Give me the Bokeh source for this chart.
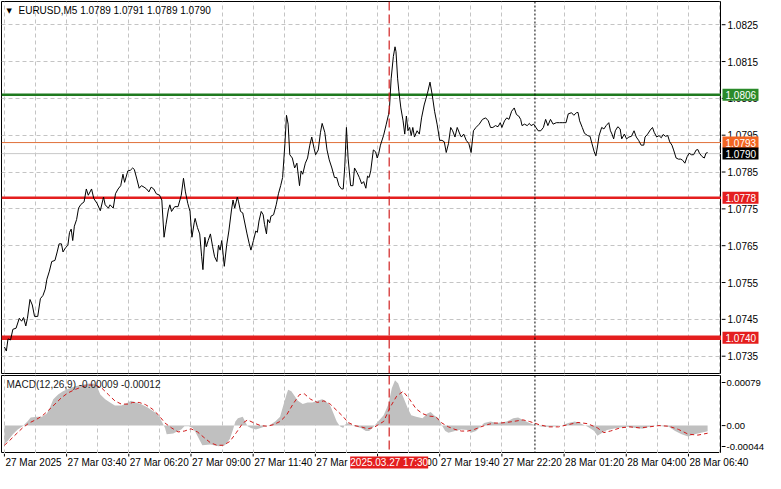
from bokeh.plotting import figure
from bokeh.models import Range1d, FixedTicker, Span, Label, Grid
from bokeh.layouts import column, row
from bokeh.core.properties import value
from bokeh.embed import file_html
from bokeh.resources import INLINE

FONT = "Liberation Sans"

# ---------------- data (5-minute bar index, EURUSD close) ----------------
price_bar = [0.0, 1.0, 1.85, 3.15, 4.35, 6.0, 7.65, 8.85, 9.85, 11.0, 11.85, 13.15, 14.35, 15.5, 17.15, 18.5,
             19.85, 21.0, 21.85, 23.15, 24.35, 26.0, 27.15, 28.15, 29.35, 30.15, 31.5, 32.65, 33.5, 34.35, 35.15,
             36.0, 37.15, 38.15, 39.35, 41.0, 42.15, 43.15, 44.85, 46.0, 47.65, 49.35, 51.0, 51.85, 53.5, 54.35,
             56.0, 57.15, 58.5, 59.85, 61.0, 61.85, 63.5, 64.85, 66.0, 66.85, 68.15, 69.35, 70.5, 71.85, 73.15,
             74.35, 75.5, 76.85, 78.15, 79.85, 81.0, 82.15, 83.15, 84.35, 85.15, 86.0, 87.65, 89.35, 91.0, 92.15,
             93.15, 94.35, 95.5, 96.5, 97.65, 98.15, 99.35, 100.5, 101.5, 102.15, 103.15, 103.85, 104.85, 106.0,
             107.15, 108.15, 109.35, 110.15, 111.0, 111.85, 113.15, 114.35, 115.5, 116.85, 117.65, 118.5, 119.85,
             120.5, 121.5, 122.65, 123.5, 124.85, 126.0, 126.85, 128.15, 129.35, 130.15, 131.0, 132.15, 133.15,
             133.85, 134.85, 135.5, 136.5, 137.15, 138.5, 139.85, 141.0, 142.15, 143.15, 144.35, 145.15, 146.0,
             146.85, 148.15, 149.35, 150.5, 151.85, 152.65, 153.5, 154.85, 156.0, 157.15, 158.15, 159.35, 160.15,
             161.5, 162.65, 163.5, 164.85, 166.0, 167.15, 168.5, 169.85, 171.0, 172.15, 173.5, 174.35, 175.15,
             176.0, 176.85, 178.15, 179.35, 180.15, 181.5, 182.65, 183.85, 184.85, 186.0, 186.85, 187.65, 188.5,
             189.85, 191.0, 191.85, 192.65, 193.5, 195.15, 196.5, 197.65, 198.15, 199.0, 200.15, 201.0, 201.5,
             202.35, 203.0, 204.0, 205.15, 206.0, 206.85, 207.65, 208.5, 209.35, 210.15, 211.0, 212.35, 213.5,
             214.65, 216.0, 217.65, 219.0, 220.15, 221.35, 222.65, 224.0, 225.15, 226.35, 227.35, 228.5, 229.65,
             230.65, 231.85, 233.0, 234.35, 235.15, 236.35, 237.65, 239.0, 240.15, 241.35, 242.65, 244.35, 246.0,
             247.65, 249.0, 250.15, 251.35, 252.65, 254.0, 255.15, 256.0, 257.35, 258.5, 259.65, 261.0, 262.35,
             263.5, 264.65, 265.65, 266.35, 267.65, 269.0, 270.15, 271.0, 272.35, 273.5, 274.65, 276.0, 277.35,
             278.5, 279.65, 281.0, 282.35, 284.0, 285.65, 287.35, 289.0, 290.15, 291.85, 293.0, 294.35, 295.15,
             296.0, 297.35, 298.5, 300.15, 301.35, 302.35, 303.5, 304.35, 305.15, 306.0, 307.35, 308.5, 309.65,
             311.0, 311.85, 312.65, 313.5, 314.35, 315.65, 316.85, 317.65, 319.0, 320.15, 321.35, 322.65, 324.0,
             325.15, 326.35, 327.65, 329.0, 329.65, 331.0, 332.35, 333.5, 334.35, 335.65, 336.85, 338.0, 339.0,
             340.15, 341.35, 342.35, 343.5, 344.35, 345.65, 346.85, 348.0, 349.0, 350.15, 351.35, 352.35, 353.5,
             354.65, 356.0, 356.85, 357.65, 359.0, 360.15, 361.0, 361.85]
price_close = [1.07375, 1.07364, 1.07397, 1.07394, 1.07423, 1.07426, 1.07453, 1.07445, 1.07455, 1.07432, 1.07453,
               1.07504, 1.07489, 1.07458, 1.07458, 1.07506, 1.07515, 1.07532, 1.07559, 1.07581, 1.07607, 1.07610,
               1.07633, 1.07655, 1.07655, 1.07633, 1.07645, 1.07651, 1.07686, 1.07695, 1.07664, 1.07703, 1.07721,
               1.07752, 1.07762, 1.07769, 1.07804, 1.07787, 1.07804, 1.07778, 1.07765, 1.07745, 1.07782, 1.07761,
               1.07752, 1.07761, 1.07752, 1.07791, 1.07804, 1.07813, 1.07844, 1.07822, 1.07853, 1.07855, 1.07861,
               1.07857, 1.07831, 1.07806, 1.07813, 1.07809, 1.07804, 1.07796, 1.07809, 1.07804, 1.07791, 1.07787,
               1.07774, 1.07673, 1.07708, 1.07747, 1.07761, 1.07743, 1.07756, 1.07756, 1.07787, 1.07833, 1.07796,
               1.07765, 1.07743, 1.07673, 1.07712, 1.07724, 1.07699, 1.07682, 1.07620, 1.07585, 1.07673, 1.07647,
               1.07664, 1.07682, 1.07647, 1.07620, 1.07607, 1.07651, 1.07638, 1.07664, 1.07594, 1.07651, 1.07690,
               1.07747, 1.07774, 1.07752, 1.07782, 1.07769, 1.07743, 1.07739, 1.07717, 1.07682, 1.07655, 1.07638,
               1.07664, 1.07690, 1.07686, 1.07717, 1.07743, 1.07734, 1.07708, 1.07682, 1.07721, 1.07712, 1.07730,
               1.07734, 1.07761, 1.07791, 1.07813, 1.07835, 1.07927, 1.08004, 1.07980, 1.07897, 1.07888, 1.07861,
               1.07874, 1.07813, 1.07853, 1.07844, 1.07874, 1.07888, 1.07923, 1.07945, 1.07914, 1.07897, 1.07910,
               1.07958, 1.07982, 1.07958, 1.07910, 1.07883, 1.07861, 1.07835, 1.07835, 1.07813, 1.07804, 1.07804,
               1.07866, 1.07971, 1.07888, 1.07813, 1.07813, 1.07861, 1.07848, 1.07835, 1.07818, 1.07824, 1.07806,
               1.07839, 1.07835, 1.07853, 1.07910, 1.07905, 1.07888, 1.07901, 1.07923, 1.07950, 1.07980, 1.08006,
               1.08024, 1.08103, 1.08164, 1.08190, 1.08177, 1.08103, 1.08068, 1.08024, 1.07989, 1.07953, 1.08002,
               1.07962, 1.07971, 1.07949, 1.07971, 1.07945, 1.07962, 1.07953, 1.07997, 1.08032, 1.08063, 1.08094,
               1.08059, 1.08015, 1.07980, 1.07936, 1.07936, 1.07932, 1.07903, 1.07927, 1.07971, 1.07962, 1.07945,
               1.07971, 1.07953, 1.07945, 1.07953, 1.07936, 1.07927, 1.07903, 1.07962, 1.07971, 1.07980, 1.07993,
               1.07997, 1.07989, 1.07971, 1.07971, 1.07976, 1.07973, 1.07984, 1.07971, 1.07989, 1.07997, 1.07993,
               1.08015, 1.08024, 1.08006, 1.08002, 1.07993, 1.07976, 1.07980, 1.07976, 1.07982, 1.07976, 1.07980,
               1.07971, 1.07962, 1.07962, 1.07971, 1.07993, 1.07976, 1.07993, 1.07980, 1.07984, 1.07984, 1.07984,
               1.07984, 1.08008, 1.08011, 1.08004, 1.08011, 1.08012, 1.07989, 1.07971, 1.07955, 1.07949, 1.07947,
               1.07927, 1.07905, 1.07894, 1.07918, 1.07949, 1.07971, 1.07967, 1.07976, 1.07984, 1.07962, 1.07953,
               1.07940, 1.07962, 1.07973, 1.07967, 1.07940, 1.07953, 1.07940, 1.07945, 1.07947, 1.07962, 1.07945,
               1.07936, 1.07923, 1.07923, 1.07945, 1.07953, 1.07964, 1.07971, 1.07958, 1.07945, 1.07949, 1.07943,
               1.07952, 1.07947, 1.07949, 1.07932, 1.07923, 1.07910, 1.07888, 1.07885, 1.07885, 1.07882, 1.07874,
               1.07892, 1.07901, 1.07897, 1.07897, 1.07910, 1.07911, 1.07901, 1.07892, 1.07888, 1.07901, 1.07903]

hist_bar = [0.0, 1.85, 4.35, 6.85, 9.35, 11.85, 13.5, 16.85, 19.35, 21.85, 23.5, 25.15, 27.65, 30.15, 32.65, 36.0,
            39.35, 43.5, 46.0, 47.65, 49.35, 51.85, 54.35, 56.85, 60.15, 62.65, 65.15, 67.65, 70.15, 73.5, 76.0,
            78.5, 81.0, 82.65, 83.5, 86.85, 89.35, 91.0, 92.65, 94.85, 96.85, 98.5, 100.15, 101.85, 106.0, 110.15,
            113.5, 116.0, 117.65, 118.85, 120.15, 122.65, 123.85, 125.15, 126.85, 129.35, 131.85, 134.35, 136.85,
            139.35, 141.85, 143.5, 145.15, 146.0, 147.65, 149.35, 151.0, 153.5, 156.0, 158.5, 161.0, 163.5, 165.15,
            167.65, 169.35, 171.0, 172.65, 174.35, 175.15, 176.85, 180.15, 183.5, 186.0, 187.65, 189.35, 191.85,
            195.15, 197.65, 199.35, 201.0, 202.65, 204.35, 206.0, 207.65, 209.35, 211.85, 215.15, 217.65, 219.35,
            221.0, 223.5, 225.15, 226.85, 228.5, 231.85, 235.15, 238.5, 240.15, 242.65, 245.15, 246.85, 250.15,
            253.5, 258.5, 261.85, 264.35, 266.85, 270.15, 273.5, 276.85, 281.85, 286.85, 290.15, 293.5, 296.85,
            300.15, 303.5, 305.15, 307.65, 310.15, 315.15, 320.15, 325.15, 328.5, 331.85, 335.15, 338.5, 341.85,
            345.15, 348.5, 351.85, 355.15, 358.5, 361.85]
hist_val = [-0.000285, -0.000236, -0.000135, -0.00006, -0.00001, 0.000065, 0.000129, 0.00014, 0.00014, 0.000189,
            0.00029, 0.000414, 0.000489, 0.00054, 0.000579, 0.000615, 0.000639, 0.000665, 0.000665, 0.000615,
            0.000489, 0.000414, 0.000365, 0.000315, 0.000315, 0.00035, 0.00039, 0.000365, 0.000339, 0.00029,
            0.00024, 0.000189, 0.000065, -0.000036, -0.000135, -0.000126, -0.000086, -0.00006, -0.00001, -0.00001,
            -0.000036, -0.000111, -0.00021, -0.00031, -0.0003, -0.000326, -0.00031, -0.00021, -0.00006, 0.000065,
            0.000114, 0.00014, 0.000065, -0.00001, -0.000036, -0.00006, -0.000036, -0.00001, 0.000015, 0.000065,
            0.00014, 0.000315, 0.000489, 0.000564, 0.00054, 0.000465, 0.00039, 0.000339, 0.000365, 0.000365,
            0.00039, 0.000414, 0.00039, 0.000315, 0.000189, 0.000065, -0.00001, -0.000036, 0.000015, 0.00004,
            -0.00001, -0.000036, -0.000086, -0.000086, -0.000036, 0.00005, 0.000165, 0.000339, 0.00059, 0.000714,
            0.000665, 0.000515, 0.00039, 0.000264, 0.000165, 0.00014, 0.000114, 0.000189, 0.000215, 0.000165,
            0.000114, 0.0, -0.000086, -0.000111, -0.000086, -0.00006, -0.00007, -0.000111, -0.000086, -0.00001,
            0.00004, 0.000065, 0.00004, 0.000065, 0.000114, 0.000129, 0.00009, 0.00004, 0.0, -0.00002, -0.00002,
            0.0, 0.00004, 0.000065, 0.00003, -0.00002, -0.000086, -0.00016, -0.000111, -0.00007, -0.000036,
            -0.00002, -0.000036, -0.00005, -0.00002, 0.0, -0.00001, -0.00002, -0.000086, -0.000135, -0.00017,
            -0.000135, -0.000111, -0.00009]

signal_bar = [0.0, 2.65, 6.0, 9.35, 12.65, 16.0, 19.35, 22.65, 26.0, 29.35, 32.65, 36.0, 40.15, 43.5, 46.85,
              50.15, 53.5, 56.85, 60.15, 63.5, 66.0, 69.35, 72.65, 76.0, 79.35, 82.65, 86.0, 89.35, 92.65, 96.0,
              99.35, 102.65, 106.0, 109.35, 112.65, 116.0, 119.35, 122.65, 125.15, 128.5, 131.85, 135.15, 138.5,
              141.85, 145.15, 148.5, 151.85, 154.35, 157.65, 161.0, 164.35, 167.65, 171.0, 174.35, 176.85, 180.15,
              183.5, 186.85, 190.15, 192.65, 195.15, 198.5, 201.85, 205.15, 208.5, 211.85, 215.15, 218.5, 221.85,
              225.15, 228.5, 231.85, 235.15, 238.5, 241.85, 245.15, 248.5, 251.85, 255.15, 258.5, 261.85, 266.85,
              270.15, 275.15, 280.15, 285.15, 290.15, 295.15, 300.15, 305.15, 308.5, 311.85, 316.85, 321.85,
              326.85, 331.85, 336.85, 341.85, 346.85, 351.85, 356.85, 361.85]
signal_val = [-0.00031, -0.000236, -0.000135, -0.000036, 0.00004, 0.00009, 0.00015, 0.00024, 0.000339, 0.00044,
              0.000515, 0.000564, 0.000615, 0.000639, 0.000639, 0.00059, 0.000489, 0.00039, 0.000339, 0.000339,
              0.000365, 0.000365, 0.00033, 0.000264, 0.000165, 0.00004, -0.000036, -0.0001, -0.000086, -0.00005,
              -0.0001, -0.000186, -0.00027, -0.00031, -0.00031, -0.00025, -0.000111, 0.00004, 0.00009, 0.00004,
              0.0, -0.00001, 0.000015, 0.000065, 0.000165, 0.000339, 0.000489, 0.0005, 0.000414, 0.000365, 0.00039,
              0.000339, 0.00024, 0.00014, 0.00005, 0.0, -0.00002, -0.00005, -0.00003, 0.00002, 0.000065, 0.00029,
              0.000465, 0.00054, 0.000414, 0.000264, 0.000189, 0.00015, 0.00014, 0.00004, -0.00002, -0.00006,
              -0.000086, -0.000086, -0.00006, -0.00002, 0.000015, 0.00004, 0.00004, 0.00005, 0.000065, 0.00009,
              0.000065, 0.000015, -0.00002, -0.00002, 0.000015, 0.00005, 0.00003, -0.000036, -0.000111, -0.000086,
              -0.000036, -0.00002, -0.000036, -0.00002, 0.0, -0.00001, -0.00006, -0.000135, -0.00015, -0.00012]

level_prices = [1.0806, 1.0793, 1.0790, 1.0778, 1.0740]
level_labels = ["1.0806", "1.0793", "1.0790", "1.0778", "1.0740"]
price_ticks = [1.0735, 1.0745, 1.0755, 1.0765, 1.0775, 1.0785, 1.0795, 1.0805, 1.0815, 1.0825]
price_tick_labels = ["1.0735", "1.0745", "1.0755", "1.0765", "1.0775", "1.0785", "1.0795", "1.0805", "1.0815",
                     "1.0825"]
time_ticks = [0, 32, 64, 96, 128, 160, 192, 224, 256, 288, 320, 352]
time_labels = ["27 Mar 2025", "27 Mar 03:40", "27 Mar 06:20", "27 Mar 09:00", "27 Mar 11:40", "27 Mar 14:20",
               "27 Mar 17:00", "27 Mar 19:40", "27 Mar 22:20", "28 Mar 01:20", "28 Mar 04:00", "28 Mar 06:40"]
grid_bars = [0, 16, 32, 48, 64, 80, 96, 112, 128, 144, 160, 176, 192, 208, 224, 240, 256, 288, 304,
             320, 336, 352, 368]
cursor_bar = 198
cursor_label = "2025.03.27 17:30"
separator_bar = 273
macd_range = (-0.00044, 0.00079)
macd_tick_values = [-0.00044, 0.0, 0.00079]
macd_tick_labels = ["-0.00044", "0.00", "0.00079"]
header_text = "EURUSD,M5  1.0789 1.0791 1.0789 1.0790"
macd_text = "MACD(12,26,9) -0.00009 -0.00012"

# ---------------- styles / layout ----------------
GRID = "#c4c4c4"
CURSOR = "#d02020"
level_line_colors = ["#1f7a1f", "#e0703a", "#c8c8c8", "#e41e1e", "#e41e1e"]
level_line_widths = [2.5, 1, 1, 2.5, 4.5]
level_box_colors = ["#2a8a2a", "#f26522", "#000000", "#e41e1e", "#e41e1e"]

X0, X1 = -1.5, 369.0
FW = 720          # chart frame width
SW = 44           # right scale width
MAIN_H = 372
MACD_H = 78
AXIS_H = 18
Y0, Y1 = 1.07303, 1.08313
BARS_PER_PX = (X1 - X0) / FW


def base_fig(fw, fh, xr, yr, top=1, bottom=1, left=1, outline="black"):
    f = figure(frame_width=fw, frame_height=fh, x_range=xr, y_range=yr, x_axis_location=None,
               y_axis_location=None, toolbar_location=None, output_backend="svg",
               min_border_left=left, min_border_right=0, min_border_top=top, min_border_bottom=bottom,
               background_fill_color="white", border_fill_color="white", outline_line_color=outline)
    for g in f.grid:
        g.visible = False
    return f


xr = Range1d(X0, X1)

# ---------------- main price panel ----------------
p = base_fig(FW, MAIN_H, xr, Range1d(Y0, Y1))
p.add_layout(Grid(dimension=0, ticker=FixedTicker(ticks=grid_bars), grid_line_color=GRID, grid_line_dash="4 3"))
p.add_layout(Grid(dimension=1, ticker=FixedTicker(ticks=price_ticks), grid_line_color=GRID, grid_line_dash="4 3"))
for lvl, lc, lw in zip(level_prices, level_line_colors, level_line_widths):
    p.add_layout(Span(location=lvl, dimension="width", line_color=lc, line_width=lw, level="underlay"))
p.line(price_bar, price_close, line_color="black", line_width=1)
p.add_layout(Label(x=X0, y=Y1, x_offset=5, y_offset=-5, text="\u25bc", text_baseline="top",
                   text_font="DejaVu Sans", text_font_size="7px", text_color="black"))
p.add_layout(Label(x=X0, y=Y1, x_offset=17, y_offset=-3, text=header_text, text_baseline="top",
                   text_font=FONT, text_font_size="10px", text_color="black"))

# right price scale
ps = base_fig(SW, MAIN_H, Range1d(0, SW), p.y_range, left=0, outline=None)
ps.segment(x0=[0] * len(price_ticks), y0=price_ticks, x1=[4] * len(price_ticks), y1=price_ticks,
           line_color="black", line_width=1)
ps.text(x=[6] * len(price_ticks), y=price_ticks, text=price_tick_labels, text_font=value(FONT),
        text_font_size="10px", text_align="left", text_baseline="middle", text_color="black")
ps.rect(x=[19] * len(level_prices), y=level_prices, width=36, height=12, width_units="screen",
        height_units="screen", fill_color=level_box_colors, line_color=None)
ps.text(x=[4] * len(level_prices), y=level_prices, text=level_labels, text_font=value(FONT),
        text_font_size="10px", text_align="left", text_baseline="middle", text_color="white")

# ---------------- MACD panel ----------------
q = base_fig(FW, MACD_H, xr, Range1d(*macd_range), bottom=0)
q.add_layout(Grid(dimension=0, ticker=FixedTicker(ticks=grid_bars), grid_line_color=GRID, grid_line_dash="4 3"))
q.varea(x=hist_bar, y1=[0] * len(hist_bar), y2=hist_val, fill_color="#c0c0c0")
q.line(signal_bar, signal_val, line_color="#d01818", line_dash="4 3", line_width=1)
q.add_layout(Label(x=X0, y=macd_range[1], x_offset=5, y_offset=-3, text=macd_text, text_baseline="top",
                   text_font=FONT, text_font_size="10px", text_color="#202020"))

for fig in (p, q):
    fig.add_layout(Span(location=cursor_bar, dimension="height", line_color=CURSOR, line_dash="9 4",
                        line_width=1.2))
    fig.add_layout(Span(location=separator_bar, dimension="height", line_color="black", line_dash="2 2",
                        line_width=1))

# right MACD scale (edge labels kept inside the panel, as in the terminal)
qs = base_fig(SW, MACD_H, Range1d(0, SW), Range1d(-MACD_H / 2, MACD_H / 2), bottom=0, left=0, outline=None)
span = macd_range[1] - macd_range[0]
macd_px = [(v - macd_range[0]) / span * MACD_H - MACD_H / 2 for v in macd_tick_values]
macd_px_lab = [min(max(v, -MACD_H / 2 + 7), MACD_H / 2 - 7) for v in macd_px]
qs.segment(x0=[0] * 3, y0=macd_px_lab, x1=[4] * 3, y1=macd_px_lab, line_color="black", line_width=1)
qs.text(x=[5] * 3, y=macd_px_lab, text=macd_tick_labels, text_font=value(FONT), text_font_size="9.5px",
        text_align="left", text_baseline="middle", text_color="black")

# ---------------- time scale ----------------
b = base_fig(FW + SW, AXIS_H, Range1d(X0, X1 + SW * BARS_PER_PX), Range1d(0, AXIS_H), top=0, bottom=0,
             outline=None)
b.segment(x0=time_ticks, y0=[AXIS_H] * len(time_ticks), x1=time_ticks, y1=[AXIS_H - 3] * len(time_ticks),
          line_color="black", line_width=1)
b.text(x=time_ticks, y=[AXIS_H - 9] * len(time_ticks), text=time_labels, text_font=value(FONT),
       text_font_size="10px", text_align="left", text_baseline="middle", text_color="black", x_offset=1)
b.rect(x=[cursor_bar], y=[AXIS_H - 9], width=78, height=12, width_units="screen", height_units="screen",
       fill_color="#e41e1e", line_color=None)
b.text(x=[cursor_bar], y=[AXIS_H - 9], text=[cursor_label], text_font=value(FONT), text_font_size="10px",
       text_align="center", text_baseline="middle", text_color="white")

layout = column(row(p, ps, spacing=0), row(q, qs, spacing=0), b, spacing=0)
open("out.html", "w").write(file_html(layout, INLINE))
